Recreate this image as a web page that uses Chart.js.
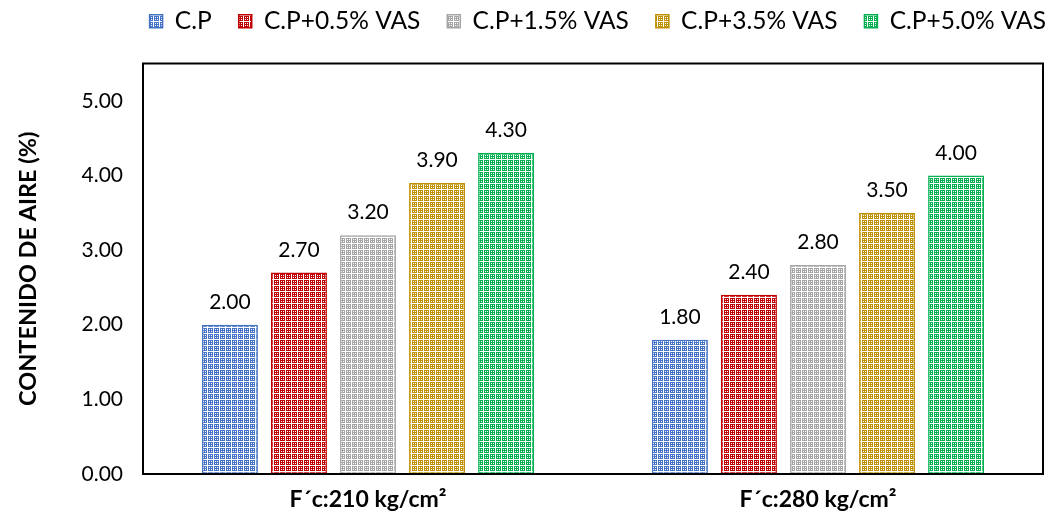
<!DOCTYPE html>
<html>
<head>
<meta charset="utf-8">
<script src="https://cdn.jsdelivr.net/npm/chart.js@4"></script>
<style>
  html, body { margin: 0; padding: 0; background: #ffffff; }
  #wrap { width: 1046px; height: 515px; position: relative; }
</style>
</head>
<body>
<div id="wrap"><canvas id="c" width="1046" height="515"></canvas></div>
<script>
// Categories and series
const categories = ['F´c:210 kg/cm²', 'F´c:280 kg/cm²'];
const seriesNames = ['C.P', 'C.P+0.5% VAS', 'C.P+1.5% VAS', 'C.P+3.5% VAS', 'C.P+5.0% VAS'];
const cp      = [2.00, 1.80];
const cp05    = [2.70, 2.40];
const cp15    = [3.20, 2.80];
const cp35    = [3.90, 3.50];
const cp50    = [4.30, 4.00];
const yTicks  = [0, 1, 2, 3, 4, 5];
const seriesColors = ['#4472C4', '#C00000', '#A5A5A5', '#BF9000', '#00B050'];

const FONT = 'Lato, "Open Sans", sans-serif';

// Lattice fill: coloured ground with a white line grid and white dots in each cell
function latticePattern(color) {
  const n = 6;
  const t = document.createElement('canvas');
  t.width = n; t.height = n;
  const g = t.getContext('2d');
  g.fillStyle = color;
  g.fillRect(0, 0, n, n);
  g.fillStyle = '#ffffff';
  g.fillRect(0, 3, n, 1);
  g.fillRect(3, 0, 1, n);
  g.fillRect(1, 1, 1, 1);
  g.fillRect(5, 1, 1, 1);
  g.fillRect(1, 5, 1, 1);
  g.fillRect(5, 5, 1, 1);
  return document.getElementById('c').getContext('2d').createPattern(t, 'repeat');
}

const seriesValues = [cp, cp05, cp15, cp35, cp50];
const datasets = seriesNames.map((name, i) => ({
  label: name,
  data: seriesValues[i],
  backgroundColor: latticePattern(seriesColors[i]),
  borderColor: seriesColors[i],
  borderWidth: 1.5,
  borderSkipped: false,
  categoryPercentage: 0.767,
  barPercentage: 0.81
}));

// Nudge the legend row: up toward the top edge and right over the plot
const legendPlacement = {
  id: 'legendPlacement',
  afterLayout(chart) {
    const l = chart.legend;
    if (!l) return;
    l.top -= 20; l.bottom -= 20;
    l.left += 30; l.right += 30;
  }
};

// Frame around the plot area
const frame = {
  id: 'frame',
  afterDraw(chart) {
    const a = chart.chartArea, ctx = chart.ctx;
    ctx.save();
    ctx.strokeStyle = '#000000';
    ctx.lineWidth = 2;
    ctx.strokeRect(a.left, a.top, a.right - a.left, a.bottom - a.top);
    ctx.restore();
  }
};

// Value labels above each bar
const valueLabels = {
  id: 'valueLabels',
  afterDatasetsDraw(chart) {
    const ctx = chart.ctx;
    ctx.save();
    ctx.fillStyle = '#000000';
    ctx.font = '21px ' + FONT;
    ctx.textAlign = 'center';
    ctx.textBaseline = 'bottom';
    chart.data.datasets.forEach((ds, i) => {
      chart.getDatasetMeta(i).data.forEach((bar, j) => {
        ctx.fillText(ds.data[j].toFixed(2), bar.x, bar.y - 12);
      });
    });
    ctx.restore();
  }
};

new Chart(document.getElementById('c'), {
  type: 'bar',
  data: { labels: categories, datasets },
  options: {
    responsive: false,
    animation: false,
    layout: { padding: { left: 14, right: 3, top: 2, bottom: 0 } },
    plugins: {
      legend: {
        position: 'top',
        align: 'end',
        labels: {
          font: { family: FONT, size: 24.5 },
          color: '#000000',
          boxWidth: 13,
          boxHeight: 13,
          padding: 27
        }
      },
      tooltip: { enabled: false }
    },
    scales: {
      x: {
        grid: { display: false, drawTicks: false },
        border: { display: false },
        ticks: {
          color: '#000000',
          font: { family: FONT, size: 23, weight: 'bold' },
          padding: 12
        },
        afterFit(s) { s.height = 41; }
      },
      y: {
        min: 0,
        max: 5.5,
        grid: { display: false, drawTicks: false },
        border: { display: false },
        afterBuildTicks(s) { s.ticks = yTicks.map(v => ({ value: v })); },
        ticks: {
          color: '#000000',
          font: { family: FONT, size: 21 },
          padding: 20,
          callback: v => Number(v).toFixed(2)
        },
        title: {
          display: true,
          text: 'CONTENIDO DE AIRE (%)',
          color: '#000000',
          font: { family: FONT, size: 23.5, weight: 'bold' },
          padding: { top: 0, bottom: 10 }
        },
        afterFit(s) { s.width = 129; }
      }
    }
  },
  plugins: [legendPlacement, frame, valueLabels]
});
</script>
</body>
</html>
